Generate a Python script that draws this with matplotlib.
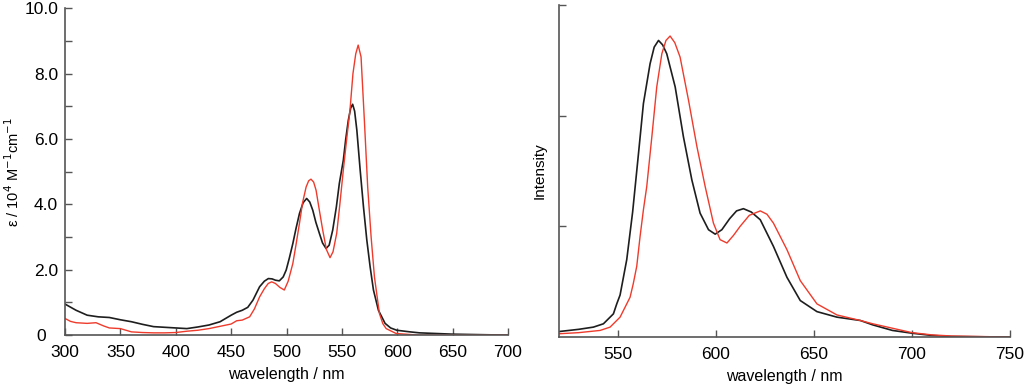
import numpy as np
import matplotlib.pyplot as plt
from matplotlib.transforms import ScaledTranslation

plt.rcParams['font.family'] = ['Liberation Sans', 'DejaVu Sans']

# absorption, wavelength in nm, epsilon in 10^4 M-1 cm-1
abs_wl_black = [300, 310, 320, 330, 340, 350, 360, 370, 380, 390, 400, 410, 420, 430, 440, 450,
                455, 460, 465, 469.7, 475.7, 480, 483.6, 487, 490, 493.5, 497, 499.7, 502.5,
                505.7, 508.5, 511.7, 515, 518.2, 521, 523.7, 526.5, 529.7, 532.5, 535.7, 538.5,
                541.7, 545, 547.7, 551.3, 553.5, 555.8, 558, 559.7, 561.5, 563.5, 566.5, 569.5,
                572.5, 575.5, 578.5, 583, 589, 594, 599.5, 611.5, 620, 650, 700]
abs_black = [0.95, 0.76, 0.61, 0.56, 0.54, 0.47, 0.41, 0.33, 0.26, 0.24, 0.22, 0.20, 0.25, 0.31, 0.41, 0.61,
             0.70, 0.76, 0.85, 1.07, 1.48, 1.65, 1.73, 1.72, 1.68, 1.66, 1.78, 1.99, 2.35,
             2.80, 3.25, 3.72, 4.05, 4.18, 4.07, 3.82, 3.45, 3.11, 2.82, 2.65, 2.75,
             3.21, 3.92, 4.64, 5.35, 6.00, 6.57, 6.95, 7.06, 6.85, 6.27, 5.05, 3.92,
             2.91, 2.09, 1.38, 0.76, 0.36, 0.22, 0.15, 0.10, 0.07, 0.03, 0.0]

abs_wl_red = [300, 305, 310, 320, 328, 335, 340, 350, 360, 370, 380, 390, 400, 410, 420, 430,
              440, 450, 455, 460, 466.7, 471, 475.7, 480, 483.5, 486.6, 490, 494, 498, 501.5,
              505.7, 508.5, 511.7, 514.5, 517.7, 520, 522.1, 524.5, 526.7, 529.5, 532.7, 536,
              539.3, 542, 545.3, 548, 551.3, 554.5, 557.3, 560, 562.5, 564.7, 567.3, 570.3,
              573.3, 576.4, 579.4, 583.9, 587, 590, 599, 620, 700]
abs_red = [0.51, 0.42, 0.38, 0.36, 0.38, 0.28, 0.22, 0.20, 0.10, 0.08, 0.07, 0.07, 0.08, 0.12, 0.15, 0.20,
           0.27, 0.34, 0.44, 0.46, 0.56, 0.80, 1.17, 1.42, 1.58, 1.63, 1.58, 1.46, 1.38, 1.65,
           2.19, 2.75, 3.42, 4.05, 4.53, 4.72, 4.77, 4.68, 4.43, 3.85, 3.21, 2.62,
           2.37, 2.55, 3.11, 3.95, 5.05, 6.05, 6.88, 8.00, 8.60, 8.87, 8.51, 6.57,
           4.53, 3.00, 1.78, 0.66, 0.35, 0.20, 0.05, 0.0, 0.0]

# emission, arbitrary intensity
em_wl_black = [520, 530, 537.5, 542.6, 547.7, 549.4, 551.1, 554.5, 557.5, 560.5, 563, 566.4,
               568.5, 570.7, 572.8, 574.9, 579.2, 583.4, 587.7, 591.9, 596.2, 599.6, 603, 607,
               610.5, 614, 618, 622.6, 629.3, 636.2, 643, 651.5, 661.7, 673.6, 680, 690, 700,
               710, 720, 750]
em_black = [0.05, 0.07, 0.09, 0.12, 0.21, 0.30, 0.38, 0.70, 1.13, 1.66, 2.11, 2.47,
            2.62, 2.68, 2.64, 2.56, 2.26, 1.81, 1.42, 1.12, 0.97, 0.93, 0.97, 1.07,
            1.14, 1.16, 1.13, 1.06, 0.82, 0.54, 0.33, 0.23, 0.18, 0.15, 0.11, 0.06, 0.035,
            0.015, 0.005, 0.0]

em_wl_red = [520, 530, 540.9, 546, 551.1, 556.2, 557.8, 559.6, 561.3, 563, 564.7, 567.3,
             569.8, 572.4, 574.5, 576.6, 579, 581.7, 586, 590.3, 594.5, 598.7, 602.1, 605.6,
             609, 612.3, 617, 622.6, 626, 629.3, 636.2, 643, 651.5, 661.7, 673.6, 680, 690,
             700, 710, 720, 750]
em_red = [0.03, 0.04, 0.06, 0.09, 0.18, 0.36, 0.48, 0.64, 0.91, 1.15, 1.36, 1.81,
          2.26, 2.56, 2.68, 2.72, 2.66, 2.53, 2.14, 1.72, 1.36, 1.03, 0.88, 0.85,
          0.92, 1.00, 1.10, 1.14, 1.11, 1.03, 0.79, 0.51, 0.30, 0.20, 0.15, 0.12, 0.08,
          0.04, 0.02, 0.01, 0.0]

spine_col = '#555555'
black_col = '#1e1e1e'
red_col = '#ee3b2c'

fig = plt.figure(figsize=(10.24, 3.87), dpi=100)


def style(ax):
    for s in ['top', 'right']:
        ax.spines[s].set_visible(False)
    for s in ['left', 'bottom']:
        ax.spines[s].set_color(spine_col)
        ax.spines[s].set_linewidth(1.2)
    ax.tick_params(which='both', direction='in', length=5, width=1, color=spine_col,
                   labelsize=12.5)
    ax.tick_params(axis='x', pad=7)
    ax.tick_params(axis='y', pad=5)


# left: absorption
ax1 = fig.add_axes([0.0635, 0.134, 0.4326, 0.845])
ax1.plot(abs_wl_black, abs_black, color=black_col, lw=1.2)
ax1.plot(abs_wl_red, abs_red, color=red_col, lw=1.0)
ax1.set_xlim(300, 700)
ax1.set_ylim(0, 10)
ax1.set_xticks(np.arange(300, 701, 50))
ax1.set_yticks(np.arange(0, 10.1, 2))
ax1.set_yticklabels(['0', '2.0', '4.0', '6.0', '8.0', '10.0'])
ax1.set_yticks(np.arange(1, 10, 2), minor=True)
style(ax1)
# the zero label sits a bit further left in the original
zero_lbl = ax1.get_yticklabels()[0]
zero_lbl.set_transform(zero_lbl.get_transform() + ScaledTranslation(-9 / 72, 0, fig.dpi_scale_trans))
ax1.set_xlabel('wavelength / nm', fontsize=11.5, labelpad=5)
ax1.set_ylabel('ε / 10$^4$ M$^{-1}$cm$^{-1}$', fontsize=10.5)
ax1.yaxis.set_label_coords(-0.098, 0.5)

# right: emission
ax2 = fig.add_axes([0.546, 0.129, 0.4404, 0.858])
ax2.plot(em_wl_black, em_black, color=black_col, lw=1.2)
ax2.plot(em_wl_red, em_red, color=red_col, lw=1.0)
ax2.set_xlim(520, 750)
ax2.set_ylim(0, 3)
ax2.set_xticks(np.arange(550, 751, 50))
ax2.set_yticks([1, 2, 3])
ax2.set_yticklabels([])
style(ax2)
ax2.set_xlabel('wavelength / nm', fontsize=11.5, labelpad=5)
ax2.set_ylabel('Intensity', fontsize=11, labelpad=4)

fig.savefig('out.png', dpi=100)
